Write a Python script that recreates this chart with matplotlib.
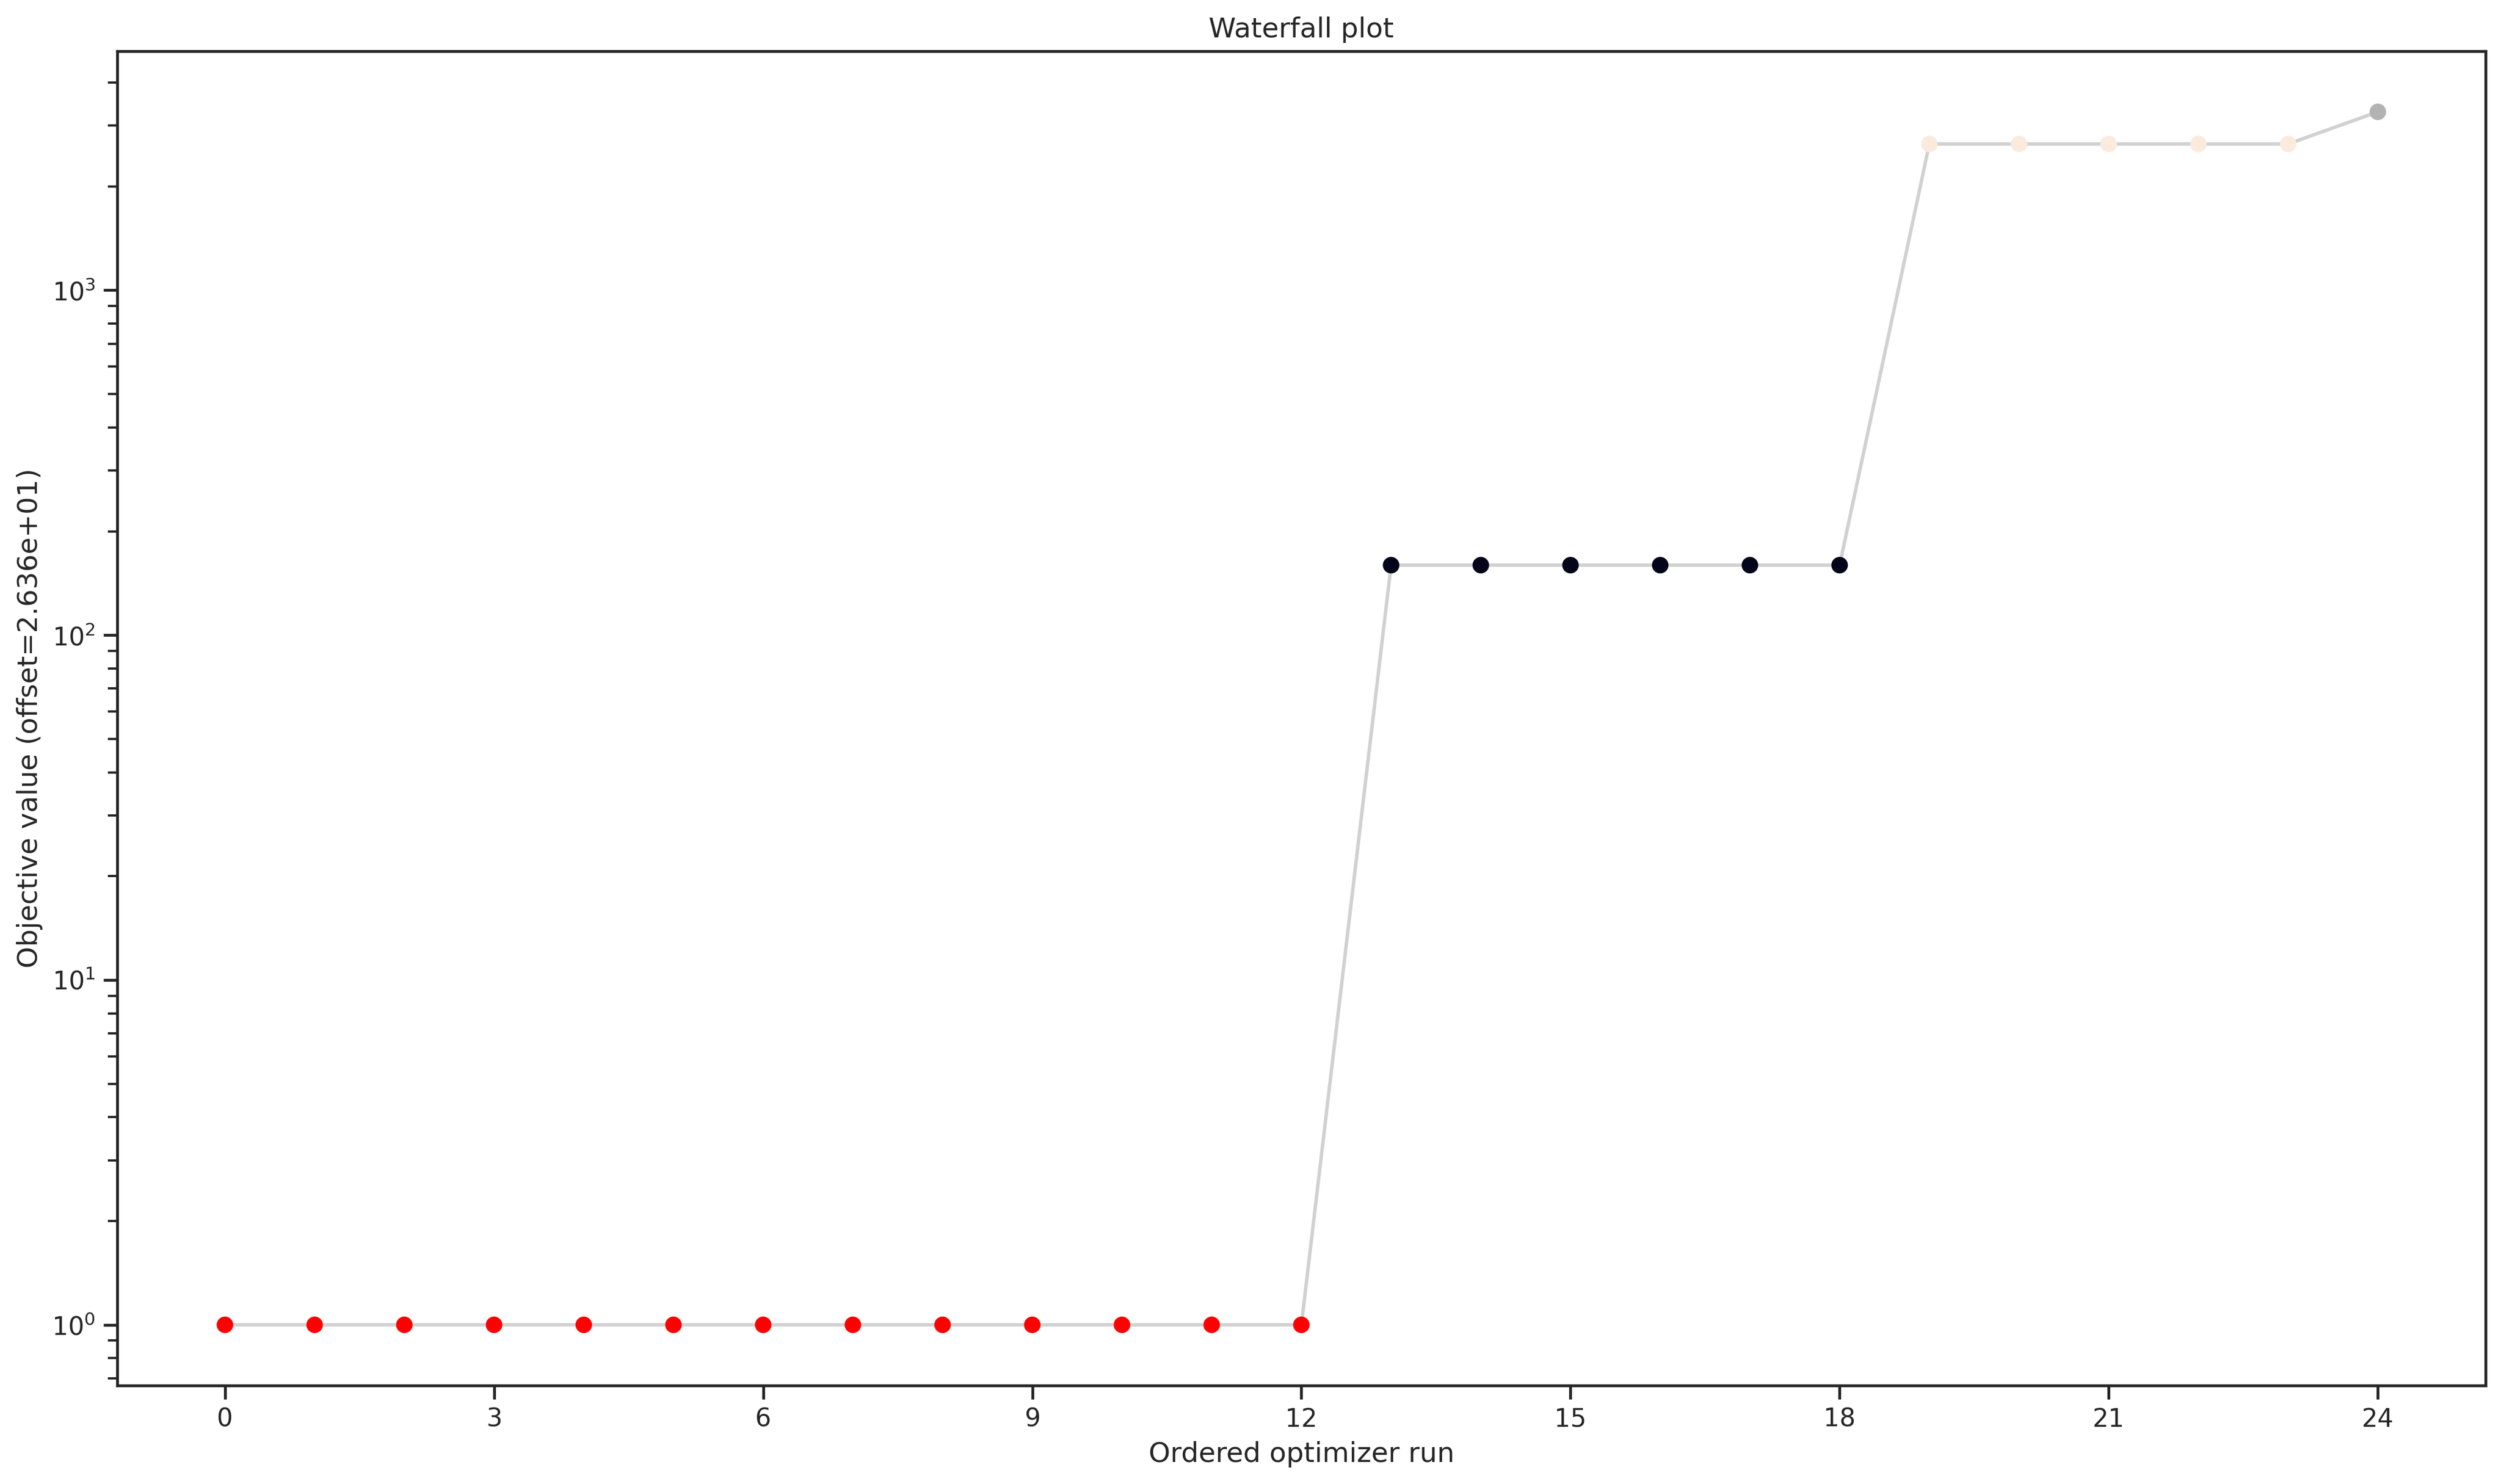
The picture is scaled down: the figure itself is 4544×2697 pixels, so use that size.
import numpy as np
import matplotlib
matplotlib.use("Agg")
import matplotlib.pyplot as plt
import seaborn as sns
from matplotlib.ticker import MaxNLocator

# objective values (offset already applied), ordered
obj_low = [1.0] * 13
obj_mid = [159.5] * 6
obj_high = [2655.0] * 5
obj_top = [3290.0]
group_colors = ["#ff0000", "#03051a", "#faebdd", "#b3b3b3"]

values = np.array(obj_low + obj_mid + obj_high + obj_top)
runs = np.arange(len(values))
colors = ([group_colors[0]] * len(obj_low) + [group_colors[1]] * len(obj_mid)
          + [group_colors[2]] * len(obj_high) + [group_colors[3]] * len(obj_top))

sns.set_theme(style="ticks")
plt.rcParams['font.family'] = ['DejaVu Sans']

fig, ax = plt.subplots(figsize=(4544 / 300, 2697 / 300), dpi=300)
ax.plot(runs, values, color=[0.7, 0.7, 0.7, 0.6], linewidth=1.5, zorder=1)
ax.scatter(runs, values, c=colors, s=52, zorder=2, linewidths=0)
ax.set_yscale("log")
ax.xaxis.set_major_locator(MaxNLocator(integer=True))
ax.set_xlabel("Ordered optimizer run")
ax.set_ylabel("Objective value (offset=2.636e+01)")
ax.set_title("Waterfall plot")

fig.subplots_adjust(left=0.0469, right=0.9938, bottom=0.0664, top=0.9655)
fig.savefig("out.png", dpi=300)
